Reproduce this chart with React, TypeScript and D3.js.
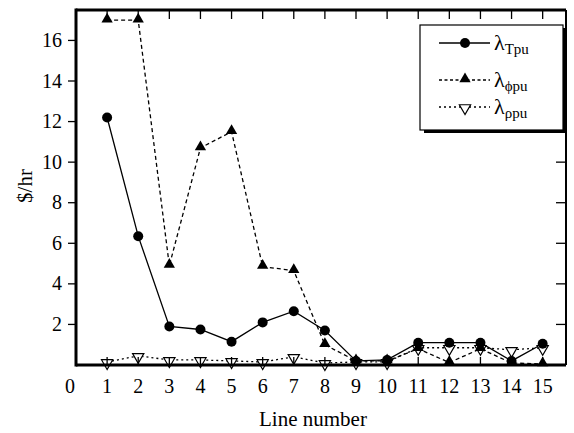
import React from 'react';
import * as d3 from 'd3';

const lines = [1, 2, 3, 4, 5, 6, 7, 8, 9, 10, 11, 12, 13, 14, 15];
const lambdaT = [12.2, 6.35, 1.9, 1.75, 1.15, 2.1, 2.65, 1.7, 0.2, 0.25, 1.1, 1.1, 1.1, 0.2, 1.05];
const lambdaPhi = [17, 17, 4.9, 10.7, 11.5, 4.85, 4.65, 1.0, 0.2, 0.2, 0.8, 0.12, 0.8, 0.1, 0.05];
const lambdaRho = [0.15, 0.45, 0.25, 0.25, 0.2, 0.15, 0.4, 0.1, 0.15, 0.15, 0.85, 0.85, 0.85, 0.75, 0.85];
const xTicks = [0, 1, 2, 3, 4, 5, 6, 7, 8, 9, 10, 11, 12, 13, 14, 15];
const yTicks = [2, 4, 6, 8, 10, 12, 14, 16];
const legendSubs = ['Tpu', 'ϕpu', 'ρpu'];

const W = 574, H = 433;
const m = { left: 76, right: 566, top: 10, bottom: 365 };
const font = "'Liberation Serif', 'DejaVu Serif', serif";

const App = () => {
  const x = d3.scaleLinear().domain([0, 15.75]).range([m.left, m.right]);
  const y = d3.scaleLinear().domain([0, 17.5]).range([m.bottom, m.top]);
  const line = d3.line<number>().x((_, i) => x(lines[i])).y(d => y(d));

  const tri = d3.symbol().type(d3.symbolTriangle).size(55)();
  const circ = (cx: number, cy: number, k: string) => <circle key={k} cx={cx} cy={cy} r={5} fill="#000" />;
  const up = (cx: number, cy: number, k: string) => <path key={k} d={tri || ''} transform={`translate(${cx},${cy - 1})`} fill="#000" />;
  const down = (cx: number, cy: number, k: string) => <path key={k} d={tri || ''} transform={`translate(${cx},${cy + 1}) rotate(180)`} fill="#fff" stroke="#000" strokeWidth={1.2} />;

  const legend = [
    { dash: undefined, mark: circ },
    { dash: '3,2.5', mark: up },
    { dash: '2,3', mark: down },
  ];

  return (
    <svg width={W} height={H} style={{ position: 'absolute', left: 0, top: 0, background: '#fff', fontFamily: font }}>
      {/* series */}
      <path d={line(lambdaRho) || ''} fill="none" stroke="#000" strokeWidth={1.3} strokeDasharray="2,3" />
      <path d={line(lambdaPhi) || ''} fill="none" stroke="#000" strokeWidth={1.3} strokeDasharray="4,3" />
      <path d={line(lambdaT) || ''} fill="none" stroke="#000" strokeWidth={1.3} />
      {lambdaRho.map((v, i) => down(x(lines[i]), y(v), 'r' + i))}
      {lambdaPhi.map((v, i) => up(x(lines[i]), y(v), 'p' + i))}
      {lambdaT.map((v, i) => circ(x(lines[i]), y(v), 't' + i))}

      {/* ticks */}
      {xTicks.slice(1).map(t => (
        <g key={'xt' + t}>
          <line x1={x(t)} x2={x(t)} y1={m.top} y2={m.top + 9} stroke="#000" strokeWidth={1.3} />
          <line x1={x(t)} x2={x(t)} y1={m.bottom} y2={m.bottom - 8} stroke="#000" strokeWidth={1.3} />
        </g>
      ))}
      {xTicks.map(t => (
        <text key={'xl' + t} x={x(t) - (t === 0 ? 6 : 0)} y={393} fontSize={20} textAnchor="middle">{t}</text>
      ))}
      {yTicks.map(t => (
        <g key={'yt' + t}>
          <line x1={m.left - 8} x2={m.left} y1={y(t)} y2={y(t)} stroke="#000" strokeWidth={1.3} />
          <line x1={m.right - 10} x2={m.right} y1={y(t)} y2={y(t)} stroke="#000" strokeWidth={1.3} />
          <text x={62} y={y(t) + 6.5} fontSize={20} textAnchor="end">{t}</text>
        </g>
      ))}

      {/* frame */}
      <line x1={m.left} x2={m.left} y1={m.top - 1.5} y2={m.bottom + 1.5} stroke="#000" strokeWidth={3} />
      <line x1={m.left} x2={m.right} y1={m.bottom} y2={m.bottom} stroke="#000" strokeWidth={3} />
      <line x1={m.left} x2={m.right} y1={m.top} y2={m.top} stroke="#000" strokeWidth={3} />
      <line x1={m.right} x2={m.right} y1={m.top} y2={m.bottom} stroke="#000" strokeWidth={2} />

      {/* axis titles */}
      <text x={313} y={426} fontSize={21} textAnchor="middle">Line number</text>
      <text transform="translate(32,186) rotate(-90)" fontSize={21} textAnchor="middle">$/hr</text>

      {/* legend */}
      <rect x={424} y={28} width={143} height={105} fill="#000" />
      <rect x={420} y={25} width={143} height={105} fill="#fff" stroke="#000" strokeWidth={1.2} />
      {legend.map((l, i) => {
        const ly = [43, 80, 107][i];
        return (
          <g key={'lg' + i}>
            <line x1={439} x2={490} y1={ly} y2={ly} stroke="#000" strokeWidth={1.3} strokeDasharray={l.dash} />
            {l.mark(465, ly, 'lm' + i)}
            <text x={494} y={ly + 7} fontSize={22}>λ<tspan fontSize={15} dy={4}>{legendSubs[i]}</tspan></text>
          </g>
        );
      })}
    </svg>
  );
};

export default App;
